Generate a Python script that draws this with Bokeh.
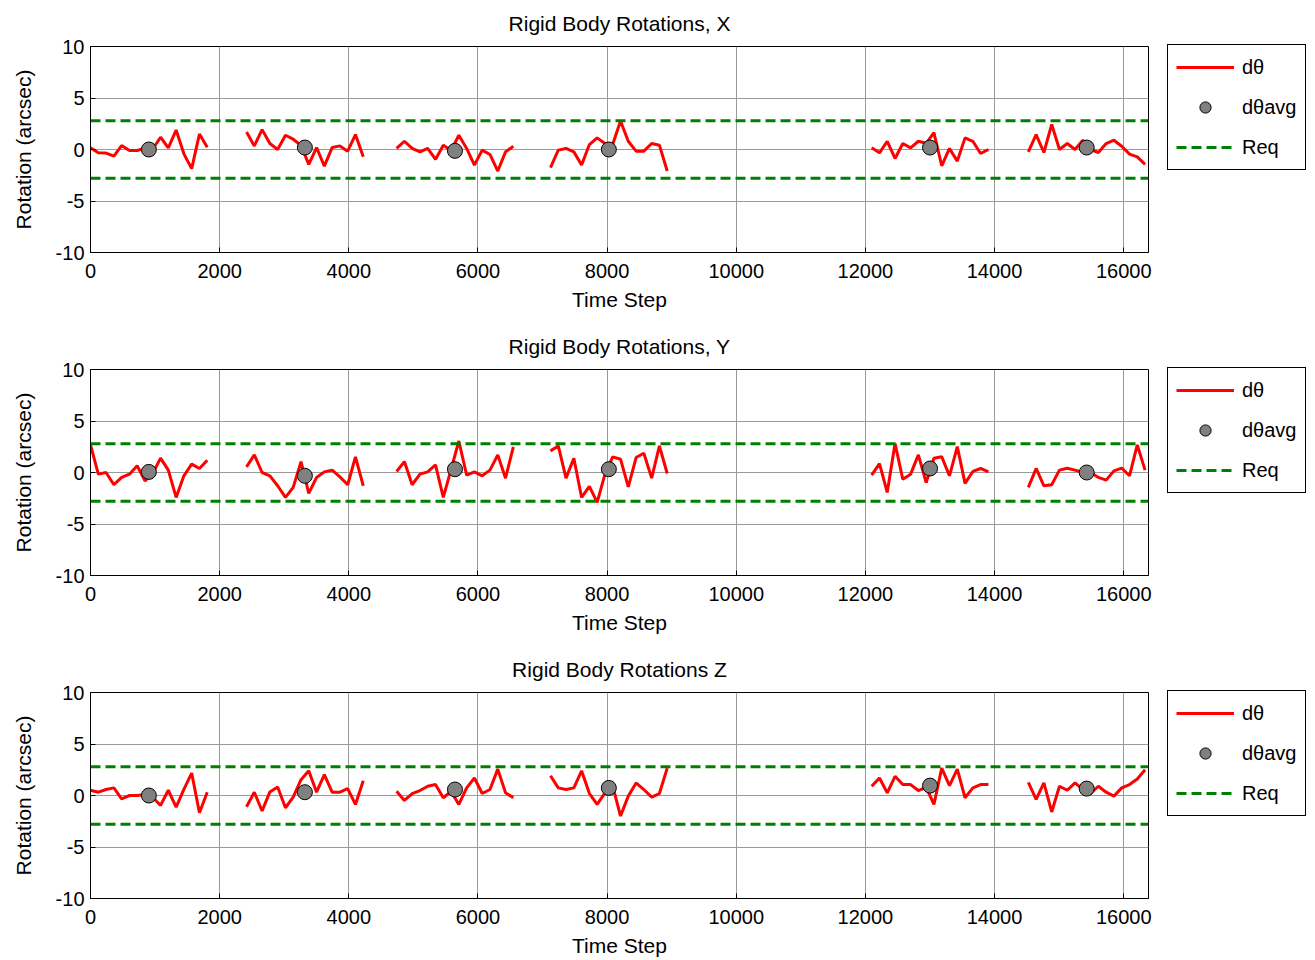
import math
from bokeh.plotting import figure
from bokeh.models import Range1d, FixedTicker, Legend, LegendItem
from bokeh.layouts import column
from bokeh.embed import file_html
from bokeh.resources import INLINE

FONT = "Liberation Sans"

# ---- data ----
group_start = [0, 2416, 4740, 7123, 12097, 14523]
step_offset = [0, 121, 241, 362, 482, 603, 723, 844, 964, 1085, 1205, 1326, 1446, 1567, 1687, 1808]
avg_time = [904, 3320, 5644, 8027, 13001, 15427]
req_level = 2.78
x_ticks = [0, 2000, 4000, 6000, 8000, 10000, 12000, 14000, 16000]
y_ticks = [-10, -5, 0, 5, 10]
legend_labels = ["dθ", "dθavg", "Req"]

rot_x = [
    [0.16, -0.32, -0.35, -0.64, 0.38, -0.10, -0.10, 0.13, 0.05, 1.19, 0.16, 1.89, -0.42, -1.86, 1.50, 0.22],
    [1.70, 0.35, 1.93, 0.58, 0.00, 1.38, 1.00, 0.40, -1.45, 0.19, -1.61, 0.19, 0.35, -0.16, 1.45, -0.71],
    [0.10, 0.80, 0.10, -0.23, 0.10, -0.96, 0.42, -0.10, 1.38, 0.10, -1.51, -0.06, -0.48, -2.09, -0.23, 0.32],
    [-1.77, -0.06, 0.10, -0.23, -1.51, 0.48, 1.13, 0.58, 0.50, 2.77, 0.80, -0.16, -0.16, 0.58, 0.42, -2.09],
    [0.16, -0.32, 0.80, -0.87, 0.58, 0.16, 0.80, 0.60, 1.64, -1.58, 0.10, -1.13, 1.13, 0.80, -0.39, 0.00],
    [-0.23, 1.45, -0.29, 2.44, 0.00, 0.58, 0.00, 0.90, 0.00, -0.29, 0.58, 0.90, 0.32, -0.45, -0.71, -1.45],
]
avg_x = [0.0, 0.19, -0.13, 0.0, 0.19, 0.19]

rot_y = [
    [2.68, -0.16, 0.00, -1.19, -0.48, -0.16, 0.65, -0.81, -0.10, 1.39, 0.23, -2.42, -0.32, 0.81, 0.39, 1.19],
    [0.55, 1.71, 0.00, -0.32, -1.29, -2.42, -1.45, 1.06, -2.03, -0.48, 0.06, 0.23, -0.42, -1.19, 1.52, -1.29],
    [0.10, 1.06, -1.19, -0.16, 0.06, 0.74, -2.42, 0.30, 3.06, -0.26, 0.06, -0.32, 0.23, 1.71, -0.55, 2.48],
    [2.10, 2.58, -0.55, 1.39, -2.42, -1.35, -2.90, -0.16, 1.52, 1.29, -1.39, 1.45, 1.87, -0.55, 2.58, -0.10],
    [-0.26, 0.87, -1.94, 2.81, -0.65, -0.16, 1.71, -0.97, 1.39, 1.52, -0.32, 2.52, -1.06, 0.10, 0.39, 0.06],
    [-1.45, 0.39, -1.29, -1.19, 0.23, 0.42, 0.23, 0.00, 0.00, -0.48, -0.74, 0.16, 0.42, -0.32, 2.68, 0.23],
]
avg_y = [0.06, -0.32, 0.32, 0.32, 0.39, 0.0]

rot_z = [
    [0.51, 0.32, 0.58, 0.74, -0.32, 0.00, 0.00, 0.10, -0.20, -0.96, 0.51, -1.12, 0.60, 2.18, -1.67, 0.32],
    [-1.09, 0.32, -1.51, 0.35, 0.83, -1.19, -0.16, 1.54, 2.40, 0.32, 2.02, 0.32, 0.32, 0.67, -0.87, 1.44],
    [0.42, -0.48, 0.19, 0.48, 0.90, 1.06, -0.22, 0.40, -0.87, 0.74, 1.70, 0.19, 0.58, 2.56, 0.26, -0.22],
    [1.92, 0.74, 0.58, 0.74, 2.40, 0.19, -0.87, 0.26, 0.90, -1.99, -0.06, 1.22, 0.58, -0.16, 0.19, 2.66],
    [0.90, 1.70, 0.26, 1.86, 1.06, 1.06, 0.48, 0.80, -0.87, 2.66, 0.96, 2.56, -0.22, 0.74, 1.06, 1.06],
    [1.28, -0.38, 1.22, -1.60, 0.90, 0.51, 1.22, 0.60, 0.20, 0.90, 0.32, -0.06, 0.74, 1.06, 1.60, 2.50],
]
avg_z = [0.0, 0.32, 0.58, 0.74, 0.96, 0.67]

titles = ["Rigid Body Rotations, X", "Rigid Body Rotations, Y", "Rigid Body Rotations Z"]


def joined(groups):
    xs, ys = [], []
    for start, vals in zip(group_start, groups):
        if xs:
            xs.append(math.nan)
            ys.append(math.nan)
        xs.extend(start + o for o in step_offset)
        ys.extend(vals)
    return xs, ys


FRAME_W, FRAME_H = 1058, 206


def make(title, groups, avgs, bottom):
    p = figure(frame_width=FRAME_W, frame_height=FRAME_H,
               x_range=Range1d(0, 16384), y_range=Range1d(-10, 10),
               output_backend="svg", toolbar_location=None,
               min_border_left=90, min_border_right=166, min_border_top=46, min_border_bottom=bottom)
    p.title.text = title
    p.title.align = "center"
    p.title.offset = -12
    p.title.vertical_align = "top"
    p.title.text_font = FONT
    p.title.text_font_size = "21px"
    p.title.text_font_style = "normal"
    p.title.text_color = "black"
    p.title.standoff = 19
    p.outline_line_color = "black"
    p.outline_line_width = 1
    p.outline_line_alpha = 1
    p.background_fill_color = "white"
    p.border_fill_color = "white"

    for ax in (p.xaxis[0], p.yaxis[0]):
        ax.major_label_text_font = FONT
        ax.major_label_text_font_size = "20px"
        ax.major_label_text_color = "black"
        ax.axis_label_text_font = FONT
        ax.axis_label_text_font_size = "21px"
        ax.axis_label_text_font_style = "normal"
        ax.axis_label_text_color = "black"
        ax.axis_line_color = "black"
        ax.major_tick_in = 5
        ax.major_tick_out = 0
        ax.major_tick_line_color = "black"
        ax.minor_tick_line_color = None
    p.xaxis.ticker = FixedTicker(ticks=x_ticks)
    p.yaxis.ticker = FixedTicker(ticks=y_ticks)
    p.yaxis.major_label_overrides = {t: str(t) for t in y_ticks}
    p.xaxis.major_label_overrides = {t: str(t) for t in x_ticks}
    p.xgrid.ticker = FixedTicker(ticks=x_ticks)
    p.ygrid.ticker = FixedTicker(ticks=y_ticks)
    p.xaxis.major_label_standoff = 11
    p.yaxis.major_label_standoff = 6
    p.xaxis.axis_label = "Time Step"
    p.xaxis.axis_label_standoff = 7
    p.yaxis.axis_label = "Rotation (arcsec)"
    p.yaxis.axis_label_standoff = 18
    p.grid.grid_line_color = "#9a9a9a"
    p.grid.grid_line_width = 1

    xs, ys = joined(groups)
    r_line = p.line(xs, ys, line_color="#ff0000", line_width=3)
    r_avg = p.scatter(avg_time, avgs, size=15, fill_color="#808080", line_color="black", line_width=1)
    r_req = p.line([0, 16384, math.nan, 0, 16384],
                   [req_level, req_level, math.nan, -req_level, -req_level],
                   line_color="#008000", line_width=3, line_dash="10 5")

    legend = Legend(items=[LegendItem(label=legend_labels[0], renderers=[r_line]),
                           LegendItem(label=legend_labels[1], renderers=[r_avg]),
                           LegendItem(label=legend_labels[2], renderers=[r_req])],
                    location=(19, FRAME_H - 124))
    legend.margin = 0
    legend.padding = 8
    legend.spacing = 12
    legend.glyph_width = 58
    legend.glyph_height = 28
    legend.label_height = 28
    legend.label_width = 40
    legend.label_standoff = 8
    legend.label_text_font = FONT
    legend.label_text_font_size = "20px"
    legend.label_text_color = "black"
    legend.border_line_color = "black"
    legend.border_line_width = 1
    legend.border_line_alpha = 1
    legend.background_fill_alpha = 0
    p.add_layout(legend, "right")
    return p


p1 = make(titles[0], rot_x, avg_x, 71)
p2 = make(titles[1], rot_y, avg_y, 71)
p3 = make(titles[2], rot_z, avg_z, 60)
layout = column(p1, p2, p3, spacing=0)

open("out.html", "w").write(file_html(layout, INLINE))
